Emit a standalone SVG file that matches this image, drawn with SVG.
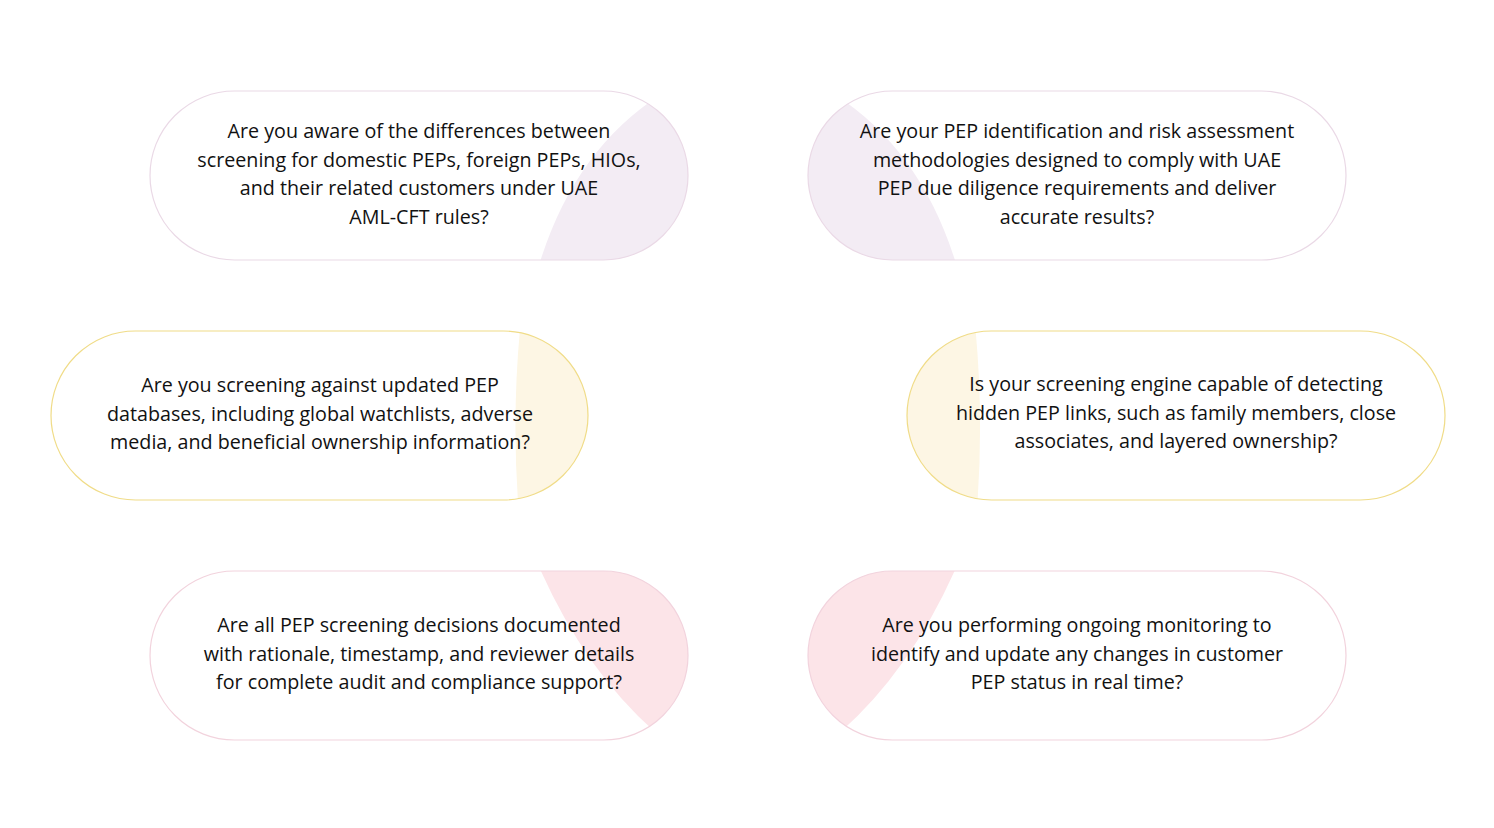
<svg xmlns="http://www.w3.org/2000/svg" width="1494" height="828" viewBox="0 0 1494 828">
<style>
text{font-family:"Open Sans","Liberation Sans",sans-serif;font-size:19.7px;font-weight:500;fill:#111;text-anchor:middle}
.p{fill:none;stroke-width:1.2}
.pu{stroke:#ead9e6}.ye{stroke:#f0dc88}.pk{stroke:#f2d3dd}
</style>
<defs>
<clipPath id="c1"><rect x="150" y="91" width="538" height="169" rx="84.5"/></clipPath>
<clipPath id="c2"><rect x="808" y="91" width="538" height="169" rx="84.5"/></clipPath>
<clipPath id="c3"><rect x="51" y="331" width="537" height="169" rx="84.5"/></clipPath>
<clipPath id="c4"><rect x="907" y="331" width="538" height="169" rx="84.5"/></clipPath>
<clipPath id="c5"><rect x="150" y="571" width="538" height="169" rx="84.5"/></clipPath>
<clipPath id="c6"><rect x="808" y="571" width="538" height="169" rx="84.5"/></clipPath>
</defs>
<rect width="1494" height="828" fill="#fff"/>
<g id="n1"><path clip-path="url(#c1)" d="M540,262 Q575,150 660,95 L700,88 L700,262Z" fill="#f3ecf4"/><rect class="p pu" x="150" y="91" width="538" height="169" rx="84.5"/>
<text x="419" y="138">Are you aware of the differences between</text><text x="419" y="167">screening for domestic PEPs, foreign PEPs, HIOs,</text><text x="419" y="195">and their related customers under UAE</text><text x="419" y="224">AML-CFT rules?</text></g>
<g id="n2"><path clip-path="url(#c2)" d="M955.5,262 Q920.5,150 835.5,95 L795.5,88 L795.5,262Z" fill="#f3ecf4"/><rect class="p pu" x="808" y="91" width="538" height="169" rx="84.5"/>
<text x="1077" y="138">Are your  PEP identification and risk assessment</text><text x="1077" y="167">methodologies designed to comply with UAE</text><text x="1077" y="195">PEP due diligence requirements and deliver</text><text x="1077" y="224">accurate results?</text></g>
<g id="n3"><path clip-path="url(#c3)" d="M520,329 Q512,415 518,502 L600,502 L600,329Z" fill="#fdf6e4"/><rect class="p ye" x="51" y="331" width="537" height="169" rx="84.5"/>
<text x="320" y="392">Are you screening against updated PEP</text><text x="320" y="421">databases, including global watchlists, adverse</text><text x="320" y="449">media, and beneficial ownership information?</text></g>
<g id="n4"><path clip-path="url(#c4)" d="M975.5,329 Q983.5,415 977.5,502 L895,502 L895,329Z" fill="#fdf6e4"/><rect class="p ye" x="907" y="331" width="538" height="169" rx="84.5"/>
<text x="1176" y="391">Is your screening engine capable of detecting</text><text x="1176" y="420">hidden PEP links, such as family members, close</text><text x="1176" y="448">associates, and layered ownership?</text></g>
<g id="n5"><path clip-path="url(#c5)" d="M540,569 Q585,670 655,732 L700,742 L700,569Z" fill="#fce4e8"/><rect class="p pk" x="150" y="571" width="538" height="169" rx="84.5"/>
<text x="419" y="632">Are all PEP screening decisions documented</text><text x="419" y="661">with rationale, timestamp, and reviewer details</text><text x="419" y="689">for complete audit and compliance support?</text></g>
<g id="n6"><path clip-path="url(#c6)" d="M955.5,569 Q910.5,670 840.5,732 L795.5,742 L795.5,569Z" fill="#fce4e8"/><rect class="p pk" x="808" y="571" width="538" height="169" rx="84.5"/>
<text x="1077" y="632">Are you performing ongoing monitoring to</text><text x="1077" y="661">identify and update any changes in customer</text><text x="1077" y="689">PEP status in real time?</text></g>
<g id="connectors"/>
</svg>
